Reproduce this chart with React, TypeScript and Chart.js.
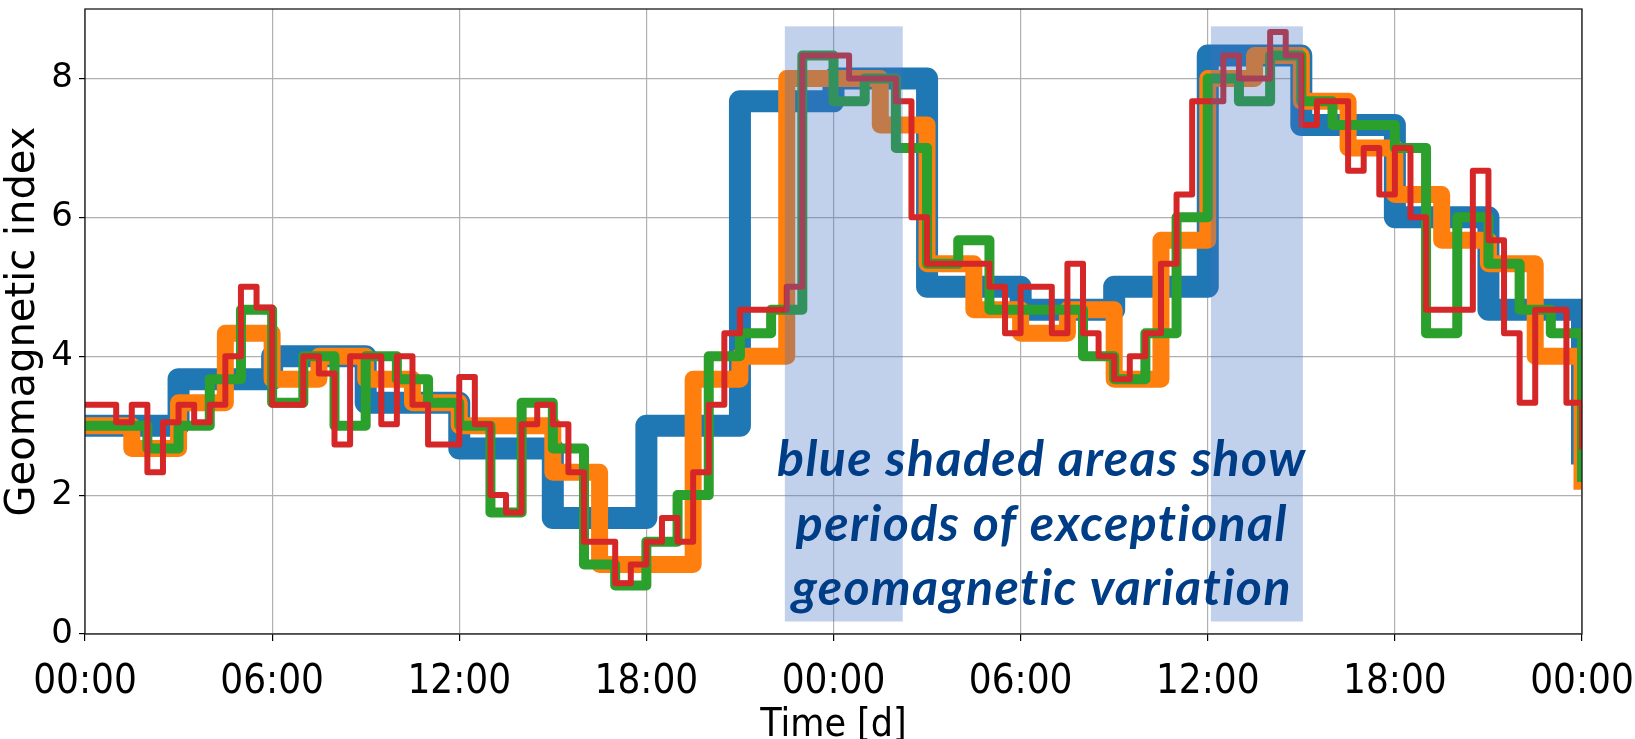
import { useEffect, useRef } from 'react';
import { Chart, registerables } from 'chart.js';

Chart.register(...registerables);

// ---------- data (hours since start, geomagnetic index) ----------
const blueHours = [0, 3, 6, 9, 12, 15, 18, 21, 24, 27, 30, 33, 36, 39, 42, 45, 48];
const blueIndex = [3.0, 3.67, 4.0, 3.33, 2.67, 1.67, 3.0, 7.67, 8.0, 5.0, 4.67, 5.0, 8.33, 7.33, 6.0, 4.67, 2.6];

const orangeHours = [0, 1.5, 3, 4.5, 6, 7.5, 9, 10.5, 12, 13.5, 15, 16.5, 18, 19.5, 21, 22.5, 24, 25.5, 27, 28.5, 30, 31.5, 33, 34.5, 36, 37.5, 39, 40.5, 42, 43.5, 45, 46.5, 48];
const orangeIndex = [3.0, 2.67, 3.33, 4.33, 3.67, 4.0, 3.67, 3.33, 3.0, 3.0, 2.33, 1.0, 1.0, 3.67, 4.0, 8.0, 8.0, 7.33, 5.33, 4.67, 4.33, 4.67, 3.67, 5.67, 8.0, 8.33, 7.67, 7.0, 6.33, 5.67, 5.33, 4.0, 2.2];

const greenHours = [0, 1, 2, 3, 4, 5, 6, 7, 8, 9, 10, 11, 12, 13, 14, 15, 16, 17, 18, 19, 20, 21, 22, 23, 24, 25, 26, 27, 28, 29, 30, 31, 32, 33, 34, 35, 36, 37, 38, 39, 40, 41, 42, 43, 44, 45, 46, 47, 48];
const greenIndex = [3.0, 3.0, 2.67, 3.0, 3.67, 4.67, 3.33, 4.0, 3.0, 4.0, 3.67, 3.33, 3.0, 1.75, 3.33, 2.67, 1.0, 0.7, 1.33, 2.0, 4.0, 4.33, 4.67, 8.33, 7.67, 8.0, 7.0, 5.33, 5.67, 4.67, 4.67, 4.67, 4.0, 3.67, 4.33, 6.0, 8.0, 7.67, 8.33, 7.67, 7.33, 7.33, 7.0, 4.33, 6.0, 5.33, 4.67, 4.33, 2.26];

const redHours = [
  0, 0.5, 1, 1.5, 2, 2.5, 3, 3.5, 4, 4.5, 5, 5.5, 6, 6.5, 7, 7.5, 8, 8.5, 9, 9.5, 10, 10.5, 11, 11.5,
  12, 12.5, 13, 13.5, 14, 14.5, 15, 15.5, 16, 16.5, 17, 17.5, 18, 18.5, 19, 19.5, 20, 20.5, 21, 21.5, 22, 22.5, 23, 23.5,
  24, 24.5, 25, 25.5, 26, 26.5, 27, 27.5, 28, 28.5, 29, 29.5, 30, 30.5, 31, 31.5, 32, 32.5, 33, 33.5, 34, 34.5, 35, 35.5,
  36, 36.5, 37, 37.5, 38, 38.5, 39, 39.5, 40, 40.5, 41, 41.5, 42, 42.5, 43, 43.5, 44, 44.5, 45, 45.5, 46, 46.5, 47, 47.5, 48,
];
const redIndex = [
  3.3, 3.3, 3.05, 3.3, 2.33, 3.05, 3.3, 3.05, 3.3, 4.0, 5.0, 4.7, 3.3, 3.3, 4.0, 3.75, 2.73, 4.0, 4.0, 3.02, 4.0, 3.3, 2.73, 2.73,
  3.7, 3.02, 2.0, 1.75, 3.02, 3.3, 3.02, 2.33, 1.33, 1.33, 0.73, 1.0, 1.33, 1.67, 1.33, 2.33, 3.3, 4.33, 4.67, 4.67, 4.67, 5.0, 8.33, 8.33,
  8.33, 8.0, 8.0, 8.0, 7.67, 6.0, 5.33, 5.33, 5.33, 5.33, 5.0, 4.33, 5.0, 5.0, 4.33, 5.33, 4.33, 4.0, 3.67, 4.0, 4.33, 5.33, 6.33, 7.67,
  7.67, 8.33, 8.0, 8.0, 8.67, 8.33, 7.33, 7.67, 7.67, 6.67, 7.0, 6.33, 7.0, 6.0, 4.67, 4.67, 4.67, 6.67, 5.67, 4.33, 3.33, 4.67, 4.67, 3.33, 2.7,
];

const xTickHours = [0, 6, 12, 18, 24, 30, 36, 42, 48];
const xTickLabels = ['00:00', '06:00', '12:00', '18:00', '00:00', '06:00', '12:00', '18:00', '00:00'];
const yTickValues = [0, 2, 4, 6, 8];

// shaded periods of exceptional variation (hours, index units)
const shadeStartHours = [22.44, 36.1];
const shadeEndHours = [26.22, 39.05];
const shadeLowIndex = 0.18;
const shadeHighIndex = 8.75;

const noteLines = ['blue shaded areas show', 'periods of exceptional', 'geomagnetic variation'];

// ---------- styling ----------
const NOTE_X_HOURS = 30.68;
const NOTE_BASELINES = [2.275, 1.339, 0.4175];

const toPoints = (xs: number[], ys: number[]) => xs.map((x, i) => ({ x, y: ys[i] }));

export default function App() {
  const ref = useRef<HTMLCanvasElement>(null);

  useEffect(() => {
    const canvas = ref.current;
    if (!canvas) return;

    const overlay = {
      id: 'overlay',
      afterDatasetsDraw(chart: any) {
        const { ctx, chartArea, scales } = chart;
        const xs = scales.x;
        const ys = scales.y;
        ctx.save();
        // shaded periods
        ctx.fillStyle = 'rgba(68,114,196,0.33)';
        for (let i = 0; i < shadeStartHours.length; i++) {
          const x0 = xs.getPixelForValue(shadeStartHours[i]);
          const x1 = xs.getPixelForValue(shadeEndHours[i]);
          const y0 = ys.getPixelForValue(shadeHighIndex);
          const y1 = ys.getPixelForValue(shadeLowIndex);
          ctx.fillRect(x0, y0, x1 - x0, y1 - y0);
        }
        // spines
        ctx.strokeStyle = '#1a1a1a';
        ctx.lineWidth = 1.3;
        ctx.strokeRect(chartArea.left, chartArea.top, chartArea.right - chartArea.left, chartArea.bottom - chartArea.top);
        // annotation
        ctx.fillStyle = '#003d87';
        ctx.font = 'italic bold 50px Lato';
        try {
          (ctx as any).letterSpacing = '1.4px';
        } catch (e) {
          /* ignore */
        }
        ctx.textAlign = 'center';
        ctx.textBaseline = 'alphabetic';
        const cx = xs.getPixelForValue(NOTE_X_HOURS);
        noteLines.forEach((t, i) => {
          ctx.fillText(t, cx, ys.getPixelForValue(NOTE_BASELINES[i]));
        });
        ctx.restore();
      },
    };

    const lineDs = (label: string, xs: number[], ys: number[], color: string, width: number, order: number) => ({
      label,
      data: toPoints(xs, ys),
      borderColor: color,
      backgroundColor: color,
      borderWidth: width,
      stepped: 'before' as const,
      pointRadius: 0,
      fill: false,
      borderJoinStyle: 'round' as const,
      borderCapStyle: 'square' as const,
      clip: 0,
      order,
    });

    const chart = new Chart(canvas, {
      type: 'line',
      data: {
        datasets: [
          lineDs('3-hour', blueHours, blueIndex, '#1f77b4', 22, 4),
          lineDs('90-min', orangeHours, orangeIndex, '#ff7f0e', 17, 3),
          lineDs('60-min', greenHours, greenIndex, '#2ca02c', 10, 2),
          lineDs('30-min', redHours, redIndex, '#d62728', 6, 1),
        ] as any,
      },
      options: {
        animation: false,
        responsive: false,
        maintainAspectRatio: false,
        layout: { padding: { top: 9, right: 53, left: 0, bottom: 0 } },
        plugins: {
          legend: { display: false },
          tooltip: { enabled: false },
        },
        scales: {
          x: {
            type: 'linear',
            min: 0,
            max: 48,
            afterFit: (s: any) => {
              s.height = 105;
              s.paddingLeft = 0;
              s.paddingRight = 0;
            },
            afterBuildTicks: (s: any) => {
              s.ticks = xTickHours.map((v) => ({ value: v }));
            },
            ticks: {
              autoSkip: false,
              maxRotation: 0,
              padding: 18,
              color: '#000',
              font: { family: 'DejaVu Sans Condensed', size: 40 },
              callback: (_v: any, i: number) => xTickLabels[i],
            },
            grid: {
              color: '#b0b0b0',
              lineWidth: 1.2,
              tickLength: 7,
              tickColor: '#000',
              tickWidth: 1.2,
            },
            border: { display: false },
            title: {
              display: true,
              text: 'Time [d]',
              color: '#000',
              font: { family: 'DejaVu Sans Condensed', size: 39, lineHeight: 1 },
              padding: { top: 0, bottom: -6 },
            },
          },
          y: {
            type: 'linear',
            min: 0,
            max: 9,
            afterFit: (s: any) => {
              s.width = 85;
              s.paddingTop = 0;
              s.paddingBottom = 0;
            },
            afterBuildTicks: (s: any) => {
              s.ticks = yTickValues.map((v) => ({ value: v }));
            },
            ticks: {
              padding: 6,
              color: '#000',
              font: { family: 'DejaVu Sans', size: 34 },
              callback: (v: any) => String(v),
            },
            grid: {
              color: '#b0b0b0',
              lineWidth: 1.2,
              tickLength: 6,
              tickColor: '#000',
              tickWidth: 1.2,
            },
            border: { display: false },
            title: {
              display: true,
              text: 'Geomagnetic index',
              color: '#000',
              font: { family: 'DejaVu Sans', size: 40, lineHeight: 1 },
              padding: { top: 4, bottom: 0 },
            },
          },
        },
      },
      plugins: [overlay],
    } as any);

    return () => chart.destroy();
  }, []);

  return (
    <div style={{ position: 'fixed', left: 0, top: 0, width: 1635, height: 739, background: '#fff' }}>
      <canvas ref={ref} width={1635} height={739} style={{ display: 'block' }} />
    </div>
  );
}
